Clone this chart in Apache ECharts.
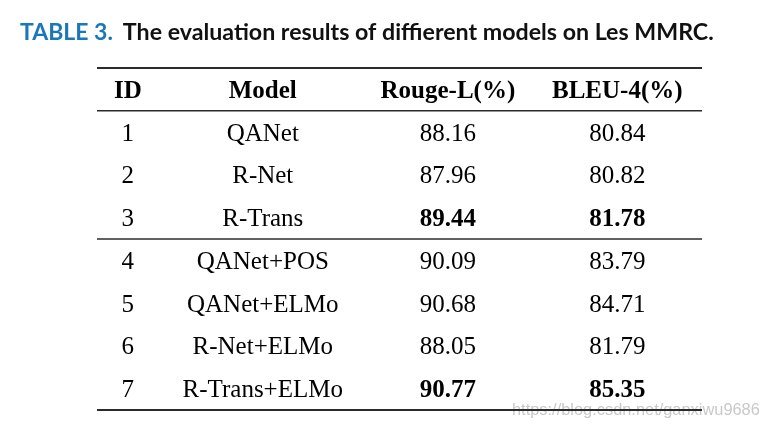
<!DOCTYPE html>
<html><head><meta charset="utf-8">
<script src="https://cdn.jsdelivr.net/npm/echarts@6/dist/echarts.min.js"></script>
<style>html,body{margin:0;padding:0;background:#fff}#c{width:762px;height:431px}</style>
</head><body><div id="c"></div>
<script>
const headers = ['ID', 'Model', 'Rouge-L(%)', 'BLEU-4(%)'];
const ids = ['1', '2', '3', '4', '5', '6', '7'];
const models = ['QANet', 'R-Net', 'R-Trans', 'QANet+POS', 'QANet+ELMo', 'R-Net+ELMo', 'R-Trans+ELMo'];
const rougeL = ['88.16', '87.96', '89.44', '90.09', '90.68', '88.05', '90.77'];
const bleu4 = ['80.84', '80.82', '81.78', '83.79', '84.71', '81.79', '85.35'];
const boldRows = [2, 6];
const ruleRows = [0, 1, 4, 8];

// layout: column centers in % of table width
const colX = [5.1, 27.4, 58.0, 86.0];

const cells = [];
headers.forEach((h, c) => cells.push([colX[c], 0.5, h, 1]));
for (let r = 0; r < ids.length; r++) {
  const row = [ids[r], models[r], rougeL[r], bleu4[r]];
  row.forEach((v, c) => cells.push([colX[c], r + 1.5, v, (c >= 2 && boldRows.includes(r)) ? 1 : 0]));
}
const rules = ruleRows.map(y => [y]);

const chart = echarts.init(document.getElementById('c'), null, {renderer: 'canvas'});
chart.setOption({
  animation: false,
  title: {
    left: 15, top: 16,
    text: '{a|TABLE 3.}  {b|The evaluation results of diffierent models on Les MMRC.}',
    textStyle: {
      rich: {
        a: {fontFamily: 'Lato', fontWeight: 'bold', fontSize: 23, color: '#1a77b8'},
        b: {fontFamily: 'Lato', fontWeight: 'bold', fontSize: 23.2, color: '#111'}
      }
    }
  },
  grid: {left: 97, right: 60, top: 68, bottom: 21},
  xAxis: {type: 'value', min: 0, max: 100, show: false},
  yAxis: {type: 'value', min: 0, max: 8, inverse: true, show: false},
  graphic: [{
    type: 'text', left: 512, top: 402, z: 0,
    style: {text: 'https://blog.csdn.net/ganxiwu9686', font: '16.4px "Liberation Sans"', fill: '#c9c9c9'}
  }],
  series: [{
    type: 'custom',
    data: rules,
    z: 2,
    renderItem: (params, api) => {
      const y = api.value(0);
      const p0 = api.coord([0, y]);
      const p1 = api.coord([100, y]);
      const w = (y === 0 || y === 8) ? 2 : 1.6;
      return {type: 'line', shape: {x1: p0[0], y1: p0[1], x2: p1[0], y2: p1[1]},
        style: {stroke: '#2b2b2b', lineWidth: w}};
    }
  }, {
    type: 'custom',
    data: cells,
    z: 3,
    renderItem: (params, api) => {
      const p = api.coord([api.value(0), api.value(1)]);
      const bold = api.value(3) === 1;
      return {type: 'text', x: p[0], y: p[1] + 2,
        style: {text: String(cells[params.dataIndex][2]), textAlign: 'center', textVerticalAlign: 'middle',
          font: (bold ? 'bold ' : '') + '25px "Liberation Serif"', fill: '#000'}};
    }
  }]
});
</script></body></html>
